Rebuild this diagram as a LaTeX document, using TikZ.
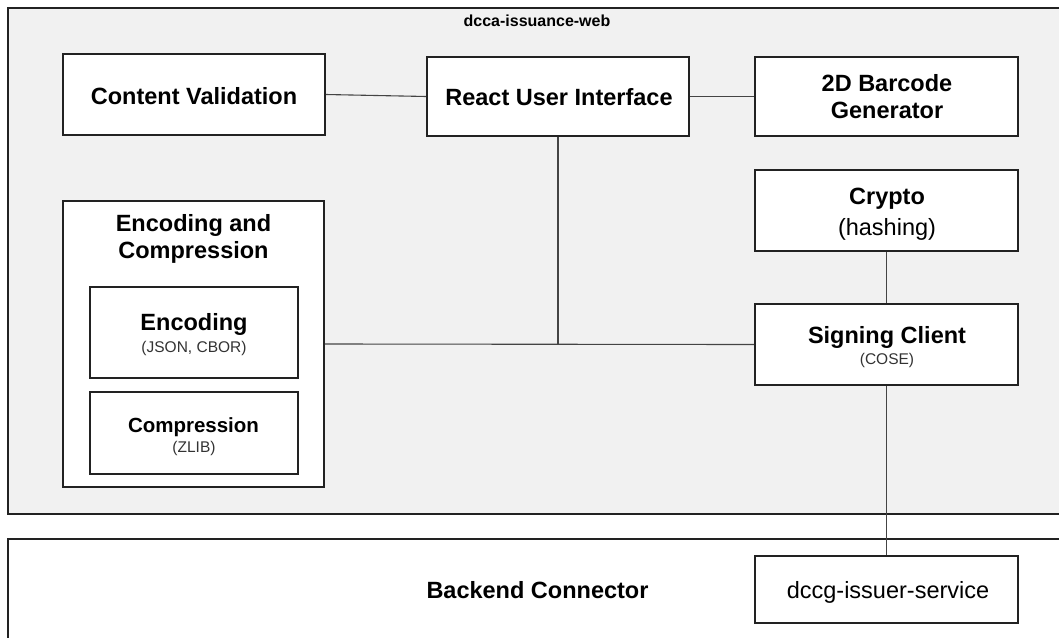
\documentclass[tikz,border=0pt]{standalone}
\usepackage{fontspec}
\setmainfont{Liberation Sans}
\definecolor{panelgray}{HTML}{F1F1F1}
\definecolor{edgeblack}{HTML}{222222}
\definecolor{wiregray}{HTML}{444444}
\definecolor{subgray}{HTML}{333333}
\tikzset{
  box/.style={draw=edgeblack, line width=1.6pt, fill=white},
  wire/.style={draw=wiregray, line width=1.1pt},
  bigbold/.style={font=\fontsize{23.5}{27}\selectfont\bfseries, anchor=base, inner sep=0pt},
  bigplain/.style={font=\fontsize{23.5}{27}\selectfont, anchor=base, inner sep=0pt},
  smallplain/.style={font=\fontsize{15.5}{18}\selectfont, text=subgray, anchor=base, inner sep=0pt},
  titlebold/.style={font=\fontsize{16}{19}\selectfont\bfseries, anchor=base, inner sep=0pt}
}
\begin{document}
\begin{tikzpicture}[x=1pt, y=-1pt]
\useasboundingbox (0,0) rectangle (1059,637);
\clip (0,0) rectangle (1059,637);

% outer web application panel
\draw[draw=edgeblack, line width=1.6pt, fill=panelgray] (8,8) rectangle (1075,514);
\node[titlebold] (webtitle) at (537,27) {dcca-issuance-web};

% backend panel
\draw[draw=edgeblack, line width=1.6pt, fill=white] (8,539) rectangle (1075,660);
\node[bigbold] (backendtitle) at (537.5,598) {Backend Connector};

% component boxes
\node[box, minimum width=262pt, minimum height=81pt] (cv)  at (194,94.5) {};
\node[box, minimum width=262pt, minimum height=79pt] (rui) at (558,96.5) {};
\node[box, minimum width=263pt, minimum height=79pt] (bar) at (886.5,96.5) {};
\node[box, minimum width=263pt, minimum height=81pt] (cry) at (886.5,210.5) {};
\node[box, minimum width=263pt, minimum height=81pt] (sig) at (886.5,344.5) {};
\node[box, minimum width=261pt, minimum height=286pt] (enc) at (193.5,344) {};
\node[box, minimum width=208pt, minimum height=91pt] (encd) at (194,332.5) {};
\node[box, minimum width=208pt, minimum height=82pt] (comp) at (194,433) {};
\node[box, minimum width=263pt, minimum height=67pt] (dccg) at (886.5,589.5) {};

% labels
\node[bigbold] (cvtext) at (194,104) {Content Validation};
\node[bigbold] (ruitext) at (559,105) {React User Interface};
\node[bigbold] (bartexta) at (887,91) {2D Barcode};
\node[bigbold] (bartextb) at (887,118) {Generator};
\node[bigbold] (crytext) at (887,204) {Crypto};
\node[bigplain] (crysub) at (887,235) {(hashing)};
\node[bigbold] (sigtext) at (887,343) {Signing Client};
\node[smallplain] (sigsub) at (887,364) {(COSE)};
\node[bigbold] (enctexta) at (193.5,231) {Encoding and};
\node[bigbold] (enctextb) at (193.5,258) {Compression};
\node[bigbold] (encdtext) at (194,330) {Encoding};
\node[smallplain] (encdsub) at (194,352) {(JSON, CBOR)};
\node[font=\fontsize{20.5}{23}\selectfont\bfseries, anchor=base, inner sep=0pt] (comptext) at (193.5,432) {Compression};
\node[smallplain] (compsub) at (194,452) {(ZLIB)};
\node[bigplain] (dccgtext) at (888,598) {dccg-issuer-service};

% connectors
\draw[wire] (cv.east) -- (rui.west);
\draw[wire] (rui.east) -- (bar.west);
\draw[wire] (enc.east) -- (sig.west);
\draw[wire] (rui.south) -- (rui.south |- sig.west);
\draw[wire] (cry.south) -- (sig.north);
\draw[wire] (sig.south) -- (dccg.north);
\end{tikzpicture}
\end{document}
